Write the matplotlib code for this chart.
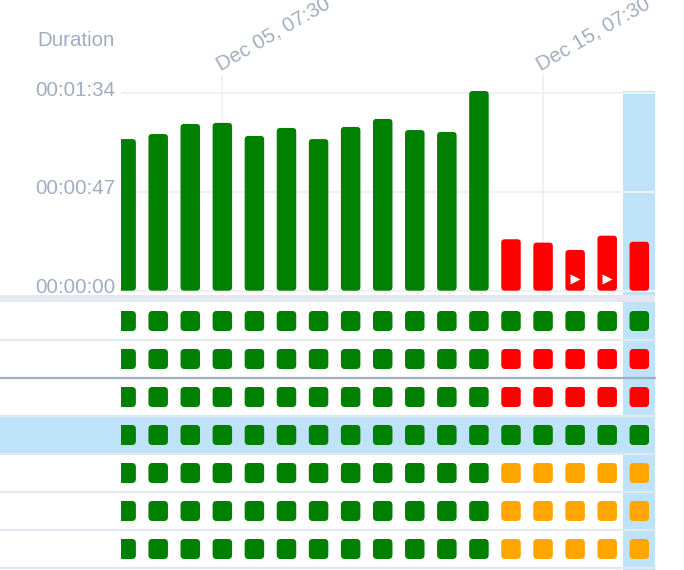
import numpy as np
import matplotlib.pyplot as plt
import matplotlib.dates as mdates
from matplotlib.patches import FancyBboxPatch, Rectangle
from matplotlib.transforms import ScaledTranslation
from matplotlib.ticker import FuncFormatter
from datetime import datetime

# run durations in seconds, one run per day
days = [datetime(2023, 12, d, 7, 30) for d in range(2, 19)]
durations = [72.2, 74.6, 79.4, 79.9, 73.7, 77.5, 72.2, 78.0, 81.8,
             76.5, 75.6, 95.1, 24.5, 22.9, 19.4, 26.2, 23.3]
bar_status = ['G'] * 12 + ['R'] * 5
play_marks = [False] * 14 + [True, True, False]

# status grid, one string per row, one letter per day
row_status = [
    'G' * 17,
    'G' * 12 + 'R' * 5,
    'G' * 12 + 'R' * 5,
    'G' * 17,
    'G' * 12 + 'O' * 5,
    'G' * 12 + 'O' * 5,
    'G' * 12 + 'O' * 5,
]
highlight_row = 3
highlight_day = 16

y_ticks = [0, 47, 94]
x_ticks = [datetime(2023, 12, 5, 7, 30), datetime(2023, 12, 15, 7, 30)]

colors = {'G': '#008000', 'R': '#ff0000', 'O': '#ffa500'}
text_col = '#a0aec0'
grid_col = '#edf2f7'
line_col = '#e2e8f0'
hl_col = '#bee3f8'

plt.rcParams['font.family'] = ['Liberation Sans', 'DejaVu Sans']
plt.rcParams['font.size'] = 14.8

W, H = 684, 570
fig = plt.figure(figsize=(W / 100, H / 100), dpi=100)

L, R = 121, 655
ax = fig.add_axes([L / W, 1 - 295 / H, (R - L) / W, (295 - 90.7) / H])
ax2 = fig.add_axes([L / W, 0, (R - L) / W, (H - 302) / H], sharex=ax)

xs = mdates.date2num(days)
ax.set_xlim(xs[0] - 0.16, xs[-1] + 0.49)
ax.set_ylim(-2.05, 95.24)
ax2.set_ylim(6.553, -0.5)

px_day = (R - L) / (ax.get_xlim()[1] - ax.get_xlim()[0])
px_sec = (295 - 90.7) / (95.24 + 2.05)
px_row = 38.0

bw = 19.5 / px_day
r = 3.5 / px_day

# highlighted column
for a in (ax, ax2):
    a.axvspan(xs[highlight_day] - 0.5, xs[highlight_day] + 0.5, color=hl_col, lw=0, zorder=0)
    for s in a.spines.values():
        s.set_visible(False)
    a.set_facecolor('none')

# bars
for x, h, st in zip(xs, durations, bar_status):
    p = FancyBboxPatch((x - bw / 2, 0), bw, h, boxstyle=f"round,pad=0,rounding_size={r}",
                       mutation_aspect=px_day / px_sec, fc=colors[st], ec='none', zorder=3)
    ax.add_patch(p)

mx = [x for x, m in zip(xs, play_marks) if m]
ax.plot(mx, [5.6] * len(mx), ls='none', marker='>', ms=7, color='white', mec='none', zorder=4)

ax.set_yticks(y_ticks)
ax.yaxis.set_major_formatter(FuncFormatter(
    lambda v, p: '%02d:%02d:%02d' % (int(v) // 3600, int(v) // 60 % 60, int(v) % 60)))
ax.tick_params(axis='y', length=0, pad=4.3, labelcolor=text_col)
ax.grid(True, color=grid_col, lw=1.5, zorder=1)

ax.xaxis.tick_top()
ax.set_xticks(mdates.date2num(x_ticks))
ax.xaxis.set_major_formatter(mdates.DateFormatter('%b %d, %H:%M'))
ax.tick_params(axis='x', length=11.5, width=1.5, color=grid_col, pad=3, labelcolor=text_col)
for lab in ax.get_xticklabels():
    lab.set_rotation(30)
    lab.set_ha('left')
    lab.set_va('baseline')
    lab.set_rotation_mode('anchor')
    lab.set_transform(lab.get_transform() + ScaledTranslation(-0.02, 0, fig.dpi_scale_trans))
for lab in ax.get_yticklabels():
    lab.set_transform(lab.get_transform() + ScaledTranslation(0, 0.05, fig.dpi_scale_trans))

fig.text(115 / W, 1 - 41 / H, 'Duration', ha='right', va='center', color=text_col)

# separator band between chart and grid
fig.patches.append(Rectangle((0, 1 - 301.7 / H), R / W, 6.7 / H, transform=fig.transFigure,
                             fc=line_col, ec='none', zorder=5))

# status grid
ext = -L / (R - L)
ax2.axhspan(highlight_row - 0.5, highlight_row + 0.5, xmin=ext, xmax=1, color=hl_col,
            lw=0, zorder=0, clip_on=False)
for i in range(len(row_status)):
    ax2.axhline(i + 0.5, xmin=ext, xmax=1, color=text_col if i == 1 else line_col,
                lw=1.6, zorder=1, clip_on=False)

sh = 20 / px_row
for i, row in enumerate(row_status):
    for x, st in zip(xs, row):
        p = FancyBboxPatch((x - bw / 2, i - sh / 2), bw, sh,
                           boxstyle=f"round,pad=0,rounding_size={4 / px_day}",
                           mutation_aspect=px_day / px_row, fc=colors[st], ec='none', zorder=3)
        ax2.add_patch(p)

ax2.set_yticks([])
ax2.tick_params(axis='x', which='both', bottom=False, top=False, labelbottom=False, labeltop=False)

fig.savefig('out.png', dpi=100)
